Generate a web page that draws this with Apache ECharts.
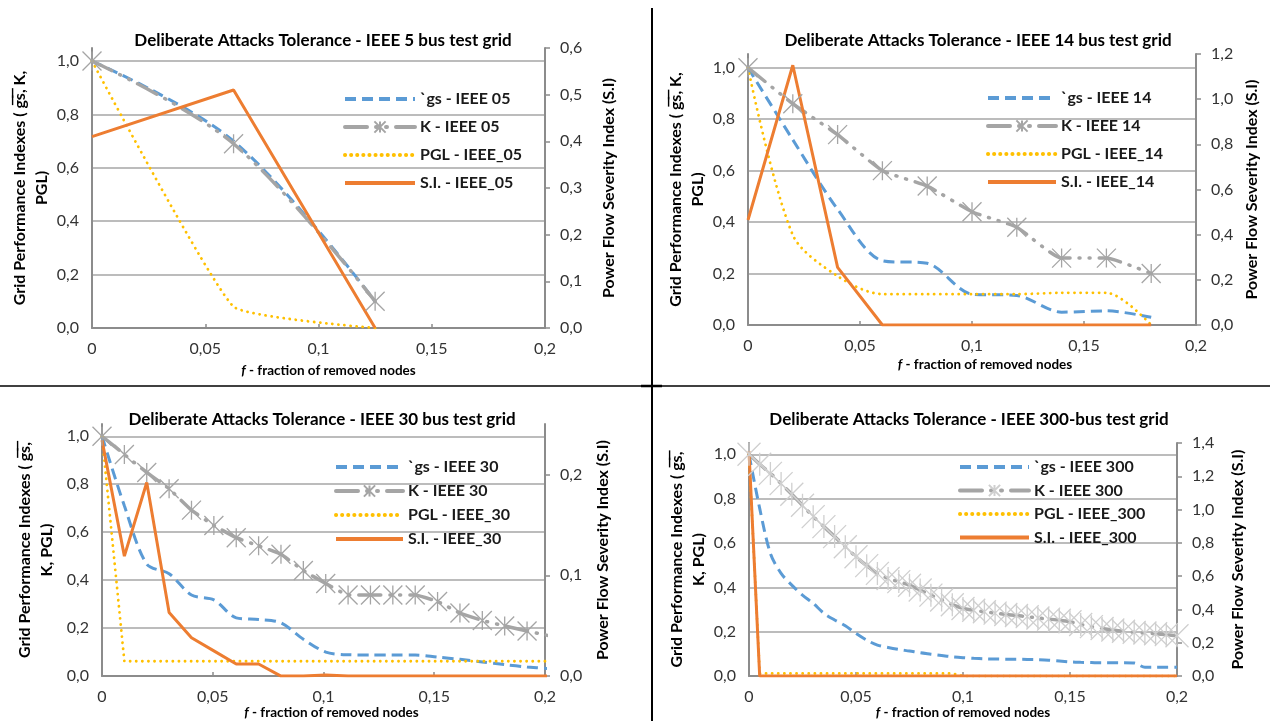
<!DOCTYPE html>
<html><head><meta charset="utf-8">
<script src="https://cdn.jsdelivr.net/npm/echarts@6/dist/echarts.min.js"></script>
<style>html,body{margin:0;padding:0;background:#fff}#c{width:1270px;height:721px}</style>
</head><body><div id="c"></div>
<script>
// ---------- tick values ----------
const leftTicks = [0, 0.2, 0.4, 0.6, 0.8, 1.0];
const rightTicks30 = [0, 0.1, 0.2];

// ---------- IEEE 5 bus ----------
const f5 = [0, 0.0625, 0.125];
const gs5 = [1.0, 0.70, 0.10];
const k5 = [1.0, 0.69, 0.10];
const pgl5 = [1.0, 0.08, 0.0];
const si5 = [0.41, 0.51, 0.0];

// ---------- IEEE 14 bus ----------
const f14 = [0, 0.02, 0.04, 0.06, 0.08, 0.10, 0.12, 0.14, 0.16, 0.18];
const gs14 = [1.0, 0.72, 0.45, 0.25, 0.24, 0.12, 0.115, 0.05, 0.055, 0.03];
const k14 = [1.0, 0.86, 0.74, 0.60, 0.54, 0.44, 0.38, 0.26, 0.26, 0.20];
const pgl14 = [1.0, 0.35, 0.19, 0.12, 0.12, 0.12, 0.12, 0.125, 0.125, 0.0];
const si14 = [0.465, 1.15, 0.255, 0, 0, 0, 0, 0, 0, 0];

// ---------- IEEE 30 bus ----------
const f30 = [0, 0.0101, 0.0202, 0.0303, 0.0404, 0.0505, 0.0606, 0.0707, 0.0808, 0.0909, 0.101,
             0.1111, 0.1212, 0.1313, 0.1414, 0.1515, 0.1616, 0.1717, 0.1818, 0.1919, 0.202];
const gs30 = [1.0, 0.71, 0.467, 0.427, 0.338, 0.318, 0.243, 0.236, 0.222, 0.154, 0.10,
              0.089, 0.088, 0.088, 0.088, 0.079, 0.07, 0.059, 0.048, 0.038, 0.031];
const k30 = [1.0, 0.924, 0.849, 0.781, 0.692, 0.628, 0.577, 0.543, 0.508, 0.44, 0.386,
             0.338, 0.338, 0.338, 0.338, 0.311, 0.263, 0.232, 0.209, 0.188, 0.168];
const pgl30 = [1.0, 0.062, 0.062, 0.062, 0.062, 0.062, 0.062, 0.062, 0.062, 0.062, 0.062,
               0.062, 0.062, 0.062, 0.062, 0.062, 0.062, 0.062, 0.062, 0.062, 0.062];
const si30 = [0.234, 0.119, 0.192, 0.063, 0.038, 0.025, 0.012, 0.012, 0, 0, 0.001,
              0, 0, 0, 0, 0, 0, 0, 0, 0, 0];

// ---------- IEEE 300 bus ----------
const f300 = [0, 0.005, 0.01, 0.015, 0.02, 0.025, 0.03, 0.035, 0.04, 0.045, 0.05, 0.055, 0.06, 0.065,
              0.07, 0.075, 0.08, 0.085, 0.09, 0.095, 0.1, 0.105, 0.11, 0.115, 0.12, 0.125, 0.13, 0.135,
              0.14, 0.145, 0.15, 0.155, 0.16, 0.165, 0.17, 0.175, 0.18, 0.185, 0.19, 0.195, 0.2];
const gs300 = [1.0, 0.756, 0.553, 0.463, 0.41, 0.365, 0.328, 0.283, 0.253, 0.227, 0.192, 0.162, 0.14, 0.129,
               0.12, 0.113, 0.105, 0.099, 0.093, 0.087, 0.083, 0.08, 0.078, 0.077, 0.076, 0.076, 0.075, 0.074,
               0.072, 0.068, 0.064, 0.062, 0.061, 0.06, 0.06, 0.06, 0.059, 0.04, 0.04, 0.04, 0.04];
const k300 = [1.0, 0.955, 0.914, 0.868, 0.82, 0.77, 0.719, 0.674, 0.629, 0.583, 0.538, 0.498, 0.463, 0.44,
              0.426, 0.41, 0.388, 0.365, 0.343, 0.322, 0.305, 0.297, 0.29, 0.284, 0.278, 0.273, 0.268, 0.262,
              0.257, 0.252, 0.245, 0.233, 0.223, 0.215, 0.208, 0.202, 0.197, 0.194, 0.191, 0.187, 0.182];
const pgl300 = [1.0, 0.012, 0.012, 0.012, 0.012, 0.012, 0.012, 0.012, 0.012, 0.012, 0.012, 0.012, 0.012, 0.012,
                0.012, 0.012, 0.012, 0.012, 0.012, 0.012, 0, 0, 0, 0, 0, 0, 0, 0,
                0, 0, 0, 0, 0, 0, 0, 0, 0, 0, 0, 0, 0];
const si300 = [1.35, 0, 0, 0, 0, 0, 0, 0, 0, 0, 0, 0, 0, 0,
               0, 0, 0, 0, 0, 0, 0, 0, 0, 0, 0, 0, 0, 0,
               0, 0, 0, 0, 0, 0, 0, 0, 0, 0, 0, 0, 0];

// ---------- names ----------
const titles = [
  'Deliberate Attacks Tolerance - IEEE 5 bus test grid',
  'Deliberate Attacks Tolerance - IEEE 14 bus test grid',
  'Deliberate Attacks Tolerance - IEEE 30 bus test grid',
  'Deliberate Attacks Tolerance - IEEE 300-bus test grid'
];
const legendNames = [
  ['`gs - IEEE 05', 'K - IEEE 05', 'PGL - IEEE_05', 'S.I. - IEEE_05'],
  ['`gs - IEEE 14', 'K - IEEE 14', 'PGL - IEEE_14', 'S.I. - IEEE_14'],
  ['`gs - IEEE 30', 'K - IEEE 30', 'PGL - IEEE_30', 'S.I. - IEEE_30'],
  ['`gs - IEEE 300', 'K - IEEE 300', 'PGL - IEEE_300', 'S.I. - IEEE_300']
];
const OV = 'g\u0305s\u0305';
const leftNames = [
  'Grid Performance Indexes ( ' + OV + ', K,\nPGL)',
  'Grid Performance Indexes ( ' + OV + ', K,\nPGL)',
  'Grid Performance Indexes ( ' + OV + ',\nK, PGL)',
  'Grid Performance Indexes ( ' + OV + ',\nK, PGL)'
];
const rightName = 'Power Flow Severity Index (S.I)';
const xName = '{i|f} - fraction of removed nodes';

// ---------- layout / style ----------
const FONT = 'Lato, "Liberation Sans", "DejaVu Sans", sans-serif';
const C_BLUE = '#5B9BD5', C_GRAY = '#A5A5A5', C_YEL = '#FFC000', C_OR = '#ED7D31';
const AX = '#8C8C8C', GRIDC = '#A6A6A6', NONE = 'rgba(0,0,0,0)';
const STAR = 'path://M0,0L20,20M20,0L0,20M10,0L10,20';

const panels = [
  { tx: 323, ty: 32, grid: {left: 92, top: 48, width: 453, height: 280}, leftMax: 1.0487,
    rightMax: 0.6, rightInt: 0.1, leftGap: 36, rightGap: 53, xGap: 36, xShift: 20,
    legend: {left: 343, top: 91, itemWidth: 70, itemGap: 12},
    x: [f5, f5, f5, f5], y: [gs5, k5, pgl5, si5], smooth: [0.35, 0.35, 0.12, false],
    star: C_GRAY, starSize: 19 },
  { tx: 978, ty: 32, grid: {left: 748, top: 54, width: 448, height: 271}, leftMax: 1.0533,
    rightMax: 1.2, rightInt: 0.2, leftGap: 34, rightGap: 45, xGap: 33, xShift: 26,
    legend: {left: 986, top: 90, itemWidth: 68, itemGap: 12},
    x: [f14, f14, f14, f14], y: [gs14, k14, pgl14, si14], smooth: [0.3, 0.15, 0.3, false],
    star: C_GRAY, starSize: 19 },
  { tx: 322, ty: 411, grid: {left: 102, top: 424, width: 443, height: 257}, leftMax: 1.0511,
    rightMax: 0.25, rightInt: 0.1, rightTicks: rightTicks30, leftGap: 44, rightGap: 47, xGap: 23, xShift: 16,
    legend: {left: 334, top: 459, itemWidth: 67, itemGap: 8},
    x: [f30, f30, f30, f30], y: [gs30, k30, pgl30, si30], smooth: [0.3, 0.1, false, false],
    star: C_GRAY, starSize: 19 },
  { tx: 969, ty: 411, grid: {left: 749, top: 443, width: 428, height: 234}, leftMax: 1.051,
    rightMax: 1.4, rightInt: 0.2, leftGap: 34, rightGap: 50, xGap: 23, xShift: 0,
    legend: {left: 958, top: 459, itemWidth: 69, itemGap: 7.5},
    x: [f300, f300, f300, f300], y: [gs300, k300, pgl300, si300], smooth: [0.3, 0.2, false, false],
    star: '#CFCFCF', starSize: 23 }
];

const fmt1 = v => v.toFixed(1).replace('.', ',');
const fmtX = v => String(+v.toFixed(2)).replace('.', ',');

const option = {
  animation: false, backgroundColor: '#fff',
  title: [], grid: [], xAxis: [], yAxis: [], legend: [], series: [],
  graphic: [
    {type: 'line', silent: true, shape: {x1: 652, y1: 8, x2: 652, y2: 721}, style: {stroke: '#000', lineWidth: 2}},
    {type: 'line', silent: true, shape: {x1: 0, y1: 386, x2: 1270, y2: 386}, style: {stroke: '#000', lineWidth: 1.3}},
    {type: 'line', silent: true, shape: {x1: 641, y1: 386, x2: 662, y2: 386}, style: {stroke: '#000', lineWidth: 2.5}}
  ]
};

const labelStyle = {color: '#333', fontSize: 16, fontFamily: FONT};
const nameStyle = {color: '#000', fontSize: 16, fontWeight: 'bold', fontFamily: FONT, lineHeight: 22};

panels.forEach((P, i) => {
  option.title.push({
    text: titles[i], left: P.tx, top: P.ty, textAlign: 'center', padding: 0,
    textStyle: {fontFamily: FONT, fontSize: 17, fontWeight: 'bold', color: '#000'}
  });
  option.grid.push(Object.assign({}, P.grid));
  option.xAxis.push({
    type: 'value', gridIndex: i, min: 0, max: 0.2, interval: 0.05,
    name: xName, nameLocation: 'middle', nameGap: P.xGap,
    nameTextStyle: {color: '#000', fontSize: 13.5, fontWeight: 'bold', fontFamily: FONT,
      padding: [0, 0, 0, P.xShift],
      rich: {i: {fontStyle: 'italic', fontWeight: 'bold', fontSize: 13.5, fontFamily: FONT, color: '#000'}}},
    axisLine: {show: true, lineStyle: {color: AX, width: 2}},
    axisTick: {show: true, inside: true, length: 4, lineStyle: {color: AX, width: 1.5}},
    axisLabel: Object.assign({formatter: fmtX, margin: 13}, labelStyle),
    splitLine: {show: false}
  });
  option.yAxis.push({
    type: 'value', gridIndex: i, position: 'left', min: 0, max: P.leftMax, interval: 0.2,
    name: leftNames[i], nameLocation: 'middle', nameRotate: 90, nameGap: P.leftGap, nameTextStyle: nameStyle,
    axisLine: {show: true, lineStyle: {color: AX, width: 2}},
    axisTick: {show: false, customValues: leftTicks},
    axisLabel: Object.assign({formatter: fmt1, margin: 13, customValues: leftTicks}, labelStyle),
    splitLine: {show: true, lineStyle: {color: GRIDC, width: 1.5}}
  });
  const rTick = {show: true, length: 5, lineStyle: {color: AX, width: 1.5}};
  const rLab = Object.assign({formatter: fmt1, margin: 15}, labelStyle);
  if (P.rightTicks) { rTick.customValues = P.rightTicks; rLab.customValues = P.rightTicks; }
  option.yAxis.push({
    type: 'value', gridIndex: i, position: 'right', min: 0, max: P.rightMax, interval: P.rightInt,
    name: rightName, nameLocation: 'middle', nameRotate: 90, nameGap: P.rightGap, nameTextStyle: nameStyle,
    axisLine: {show: true, lineStyle: {color: AX, width: 2}},
    axisTick: rTick, axisLabel: rLab, splitLine: {show: false}
  });
  option.legend.push({
    orient: 'vertical', left: P.legend.left, top: P.legend.top, padding: 0,
    itemWidth: P.legend.itemWidth, itemHeight: 14, itemGap: P.legend.itemGap,
    selectedMode: false, data: legendNames[i],
    lineStyle: {width: 4},
    textStyle: {fontFamily: FONT, fontSize: 16, fontWeight: 'bold', color: '#1a1a1a'}
  });
  const styles = [
    {symbol: 'none', lineStyle: {color: C_BLUE, width: 3, type: [11, 6]}, itemStyle: {color: NONE}},
    {symbol: STAR, symbolSize: P.starSize,
     lineStyle: {color: C_GRAY, width: 3.5, type: [22, 9, 1, 9, 1, 9], cap: 'round'},
     itemStyle: {color: NONE, borderColor: P.star, borderWidth: 1.3}},
    {symbol: 'none', lineStyle: {color: C_YEL, width: 2.8, type: [0.1, 6], cap: 'round'}, itemStyle: {color: NONE}},
    {symbol: 'none', lineStyle: {color: C_OR, width: 3}, itemStyle: {color: NONE}}
  ];
  for (let j = 0; j < 4; j++) {
    option.series.push(Object.assign({
      type: 'line', name: legendNames[i][j], xAxisIndex: i, yAxisIndex: j === 3 ? 2 * i + 1 : 2 * i,
      smooth: P.smooth[j], showSymbol: j === 1, emphasis: {disabled: true}, silent: true,
      data: P.x[j].map((xv, k) => [xv, P.y[j][k]])
    }, styles[j]));
  }
});

const chart = echarts.init(document.getElementById('c'), null, {renderer: 'canvas'});
chart.setOption(option);
</script>
</body></html>
